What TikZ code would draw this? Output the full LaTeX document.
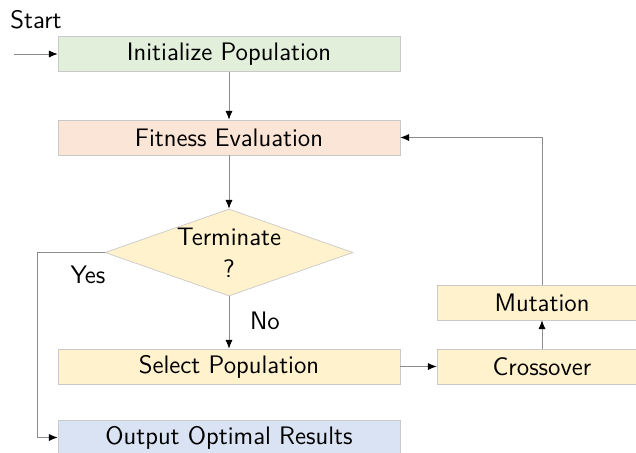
\documentclass[tikz,border=0pt]{standalone}
\usepackage{tikz}
\usetikzlibrary{shapes.geometric,arrows.meta}
\definecolor{initgreen}{HTML}{E2EFDA}
\definecolor{fitorange}{HTML}{FBE5D6}
\definecolor{stepyellow}{HTML}{FFF2CC}
\definecolor{outblue}{HTML}{DAE3F3}
\definecolor{edgegray}{HTML}{C9C9C9}
\definecolor{linegray}{HTML}{8C8C8C}
\tikzset{
  box/.style={rectangle, draw=edgegray, minimum width=6.84cm, minimum height=0.7cm, inner sep=0pt, font=\sffamily\Large},
  smallbox/.style={box, minimum width=4.2cm},
  decision/.style={diamond, draw=edgegray, fill=stepyellow, aspect=2.85, minimum width=4.96cm, minimum height=1.74cm, inner sep=0pt, align=center, font=\sffamily\Large},
  link/.style={draw=linegray, -{Latex[length=5pt,width=4pt,color=black]}},
  tag/.style={font=\sffamily\Large}
}
\begin{document}
\begin{tikzpicture}
  \useasboundingbox (0,0) rectangle (12.72,-9.06);
     \node[name=init, box, fill=initgreen] at (4.58,-1.08){Initialize Population};
     \node[name=fit, box, fill=fitorange] at (4.58,-2.75){Fitness Evaluation};
     \node[name=term, decision] at (4.58,-5.05){Terminate\\?};
     \node[name=sel, box, fill=stepyellow] at (4.58,-7.33){Select Population};
     \node[name=out, box, fill=outblue] at (4.58,-8.75){Output Optimal Results};
     \node[name=cross, smallbox, fill=stepyellow] at (10.84,-7.33){Crossover};
     \node[name=mut, smallbox, fill=stepyellow] at (10.84,-6.05){Mutation};
     \node[name=start, tag] at (0.72,-0.4){Start};
     \coordinate (entry) at (0.28,-1.08);
     \coordinate (yescorner) at (0.74,-5.05);
      \draw[link] (entry) -- (init.west);
      \draw[link] (init) -- (fit);
      \draw[link] (fit) -- (term);
      \draw[link] (term) -- (sel);
      \draw[link] (term.west) -- (yescorner) |- (out.west);
      \draw[link] (sel) -- (cross);
      \draw[link] (cross) -- (mut);
      \draw[link] (mut.north) |- (fit.east);
     \node[name=yes, tag] at (1.76,-5.5){Yes};
     \node[name=no, tag] at (5.3,-6.42){No};
  \end{tikzpicture}
\end{document}
